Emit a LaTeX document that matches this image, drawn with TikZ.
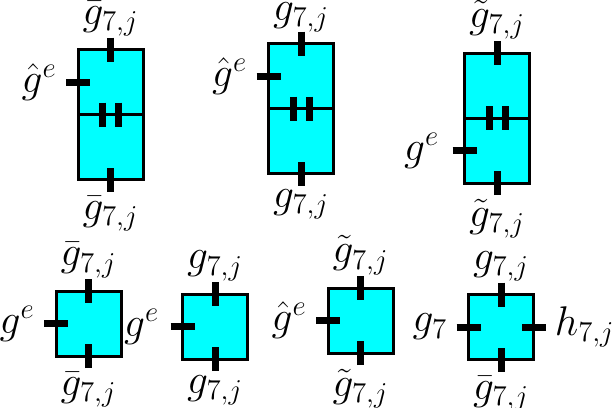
\documentclass[tikz,border=0pt]{standalone}
\usepackage{amsmath, amssymb}
\usetikzlibrary{positioning, calc}
\definecolor{aqua}{RGB}{0,255,255}

\begin{document}
\begin{tikzpicture}[x=0.5pt, y=-0.5pt,
  cell/.style={draw=black, fill=aqua, line width=1.5pt, minimum size=32.5pt, inner sep=0pt, outer sep=0pt},
  stub/.style={line width=3.5pt},
  lbl/.style={inner sep=0.5pt, font=\fontsize{20}{24}\selectfont}]
  \useasboundingbox (0,0) rectangle (615,407);

  % tall boxes
  \node[cell] (upA) at (110.5,82) {};
  \node[cell, below=0pt of upA] (loA) {};
  \node[cell] (upB) at (301,76) {};
  \node[cell, below=0pt of upB] (loB) {};
  \node[cell] (upC) at (497,85.5) {};
  \node[cell, below=0pt of upC] (loC) {};

  % small boxes
  \node[cell] (sqD) at (88.5,323.5) {};
  \node[cell] (sqE) at (215,326.5) {};
  \node[cell] (sqF) at (360.5,320.5) {};
  \node[cell] (sqG) at (501,327) {};

  % legs of the tall boxes
  \foreach \b in {A,B,C} {
    \draw[stub] ($(up\b.north)+(0,-12)$) coordinate (t\b) -- ++(0,24);
    \draw[stub] ($(lo\b.south)+(0,12)$) coordinate (b\b) -- ++(0,-24);
    \draw[stub] ($(up\b.south)+(-8,-12)$) -- ++(0,24);
    \draw[stub] ($(up\b.south)+(8,-12)$) -- ++(0,24);
  }
  \draw[stub] ($(upA.west)+(-12,0)$) coordinate (wA) -- ++(24,0);
  \draw[stub] ($(upB.west)+(-12,0)$) coordinate (wB) -- ++(24,0);
  \draw[stub] ($(loC.west)+(-12,0)$) coordinate (wC) -- ++(24,0);

  % legs of the small boxes
  \foreach \b in {D,E,F,G} {
    \draw[stub] ($(sq\b.north)+(0,-12)$) coordinate (t\b) -- ++(0,24);
    \draw[stub] ($(sq\b.south)+(0,12)$) coordinate (b\b) -- ++(0,-24);
    \draw[stub] ($(sq\b.west)+(-12,0)$) coordinate (w\b) -- ++(24,0);
  }
  \draw[stub] ($(sqG.east)+(12,0)$) coordinate (eG) -- ++(-24,0);

  % labels
  \node[lbl, above=0pt of tA] (ltA) {$\bar{g}_{7,j}$};
  \node[lbl, below=1.5pt of bA] (lbA) {$\bar{g}_{7,j}$};
  \node[lbl, left=4pt of wA] (lwA) {$\hat{g}^e$};
  \node[lbl, above=-1pt of tB] (ltB) {$g_{7,j}$};
  \node[lbl, below=1.5pt of bB] (lbB) {$g_{7,j}$};
  \node[lbl, left=4pt of wB] (lwB) {$\hat{g}^e$};
  \node[lbl, above=0pt of tC] (ltC) {$\tilde{g}_{7,j}$};
  \node[lbl, below=1.5pt of bC] (lbC) {$\tilde{g}_{7,j}$};
  \node[lbl, left=6pt of wC] (lwC) {$g^e$};

  \node[lbl, above=0pt of tD] (ltD) {$\bar{g}_{7,j}$};
  \node[lbl, below=1.5pt of bD] (lbD) {$\bar{g}_{7,j}$};
  \node[lbl, left=4pt of wD] (lwD) {$g^e$};
  \node[lbl, above=0pt of tE] (ltE) {$g_{7,j}$};
  \node[lbl, below=1.5pt of bE] (lbE) {$g_{7,j}$};
  \node[lbl, left=5pt of wE] (lwE) {$g^e$};
  \node[lbl, above=0pt of tF] (ltF) {$\tilde{g}_{7,j}$};
  \node[lbl, below=1.5pt of bF] (lbF) {$\tilde{g}_{7,j}$};
  \node[lbl, left=4pt of wF] (lwF) {$\hat{g}^e$};
  \node[lbl, above=0pt of tG] (ltG) {$g_{7,j}$};
  \node[lbl, below=1.5pt of bG] (lbG) {$\bar{g}_{7,j}$};
  \node[lbl, left=4pt of wG] (lwG) {$g_7$};
  \node[lbl, right=4pt of eG] (leG) {$h_{7,j}$};
\end{tikzpicture}
\end{document}
